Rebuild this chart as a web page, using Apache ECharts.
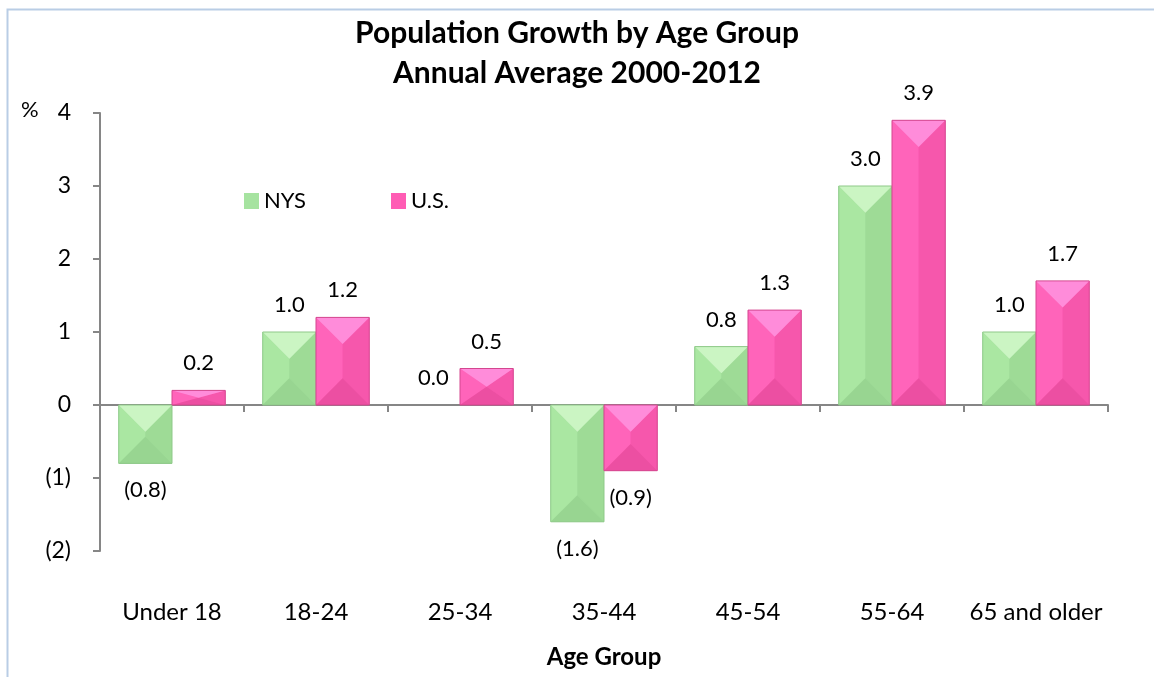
<!DOCTYPE html>
<html><head><meta charset="utf-8">
<script src="https://cdn.jsdelivr.net/npm/echarts@6/dist/echarts.min.js"></script>
<style>html,body{margin:0;padding:0;background:#fff}#c{width:1154px;height:677px}</style>
</head><body><div id="c"></div>
<script>
const categories = ['Under 18', '18-24', '25-34', '35-44', '45-54', '55-64', '65 and older'];
const nysValues = [-0.8, 1.0, 0.0, -1.6, 0.8, 3.0, 1.0];
const usValues = [0.2, 1.2, 0.5, -0.9, 1.3, 3.9, 1.7];
const seriesNames = ['NYS', 'U.S.'];
const titleLines = ['Population Growth by Age Group', 'Annual Average 2000-2012'];

const FONT = 'Lato';
const CAT_GAP = 0.26;
const palettes = [
  {base: '#a6e3a0', top: '#cbf5c3', left: '#aae7a2', right: '#9edb96', bottom: '#98d591', edge: '#8fc989'},
  {base: '#ff5cb4', top: '#ff8cda', left: '#ff64ba', right: '#f657ac', bottom: '#ec4fa2', edge: '#d4478f'}
];

function fmt(v) {
  return v < 0 ? '(' + Math.abs(v).toFixed(1) + ')' : v.toFixed(1);
}
function barData(arr) {
  return arr.map(v => v < 0 ? {value: v, label: {position: 'bottom'}} : {value: v});
}
function bevel(si) {
  const c = palettes[si];
  return function (params, api) {
    const ci = api.value(0), v = api.value(1);
    if (v === 0) return null;
    const p0 = api.coord([ci, 0]), p1 = api.coord([ci, v]);
    const band = api.size([1, 0])[0];
    const bw = band * (1 - CAT_GAP) / 2;
    const x0 = p0[0] - bw + si * bw, x1 = x0 + bw;
    const top = Math.min(p0[1], p1[1]), bot = Math.max(p0[1], p1[1]);
    const h = bot - top;
    const d = Math.min(bw / 2, h / 2);
    const cx = (x0 + x1) / 2;
    return {
      type: 'group', silent: true, children: [
        {type: 'polygon', shape: {points: [[x0, top], [cx, top + d], [cx, bot - d], [x0, bot]]}, style: {fill: c.left}},
        {type: 'polygon', shape: {points: [[x1, top], [cx, top + d], [cx, bot - d], [x1, bot]]}, style: {fill: c.right}},
        {type: 'polygon', shape: {points: [[x0, bot], [x1, bot], [cx, bot - d]]}, style: {fill: c.bottom}},
        {type: 'polygon', shape: {points: [[x0, top], [x1, top], [cx, top + d]]}, style: {fill: c.top}},
        {type: 'rect', shape: {x: x0, y: top, width: bw, height: h}, style: {fill: 'none', stroke: c.edge, lineWidth: 1}}
      ]
    };
  };
}

const chart = echarts.init(document.getElementById('c'));
chart.setOption({
  backgroundColor: '#fff',
  animation: false,
  title: {
    text: titleLines.join('\n'), left: 'center', top: 8,
    textStyle: {fontFamily: FONT, fontSize: 30, fontWeight: 'bold', color: '#000', lineHeight: 40}
  },
  legend: {
    data: seriesNames, left: 239, top: 185, itemGap: 85, itemWidth: 15, itemHeight: 16,
    icon: 'rect', textStyle: {fontFamily: FONT, fontSize: 22, color: '#000'}
  },
  graphic: [
    {type: 'rect', left: 5, top: 7, shape: {width: 1300, height: 800}, style: {fill: 'none', stroke: '#b9cde5', lineWidth: 2}, silent: true},
    {type: 'text', left: 21, top: 99, style: {text: '%', fontFamily: FONT, fontSize: 22, fill: '#000'}}
  ],
  grid: {left: 100, right: 46, top: 113, bottom: 126},
  xAxis: [
    {
      type: 'category', data: categories, position: 'bottom',
      axisLine: {onZero: true, lineStyle: {color: '#868686', width: 2}},
      axisTick: {show: true, length: 7, lineStyle: {color: '#868686', width: 2}},
      axisLabel: {show: false}
    },
    {
      type: 'category', data: categories, position: 'bottom',
      axisLine: {show: false, onZero: false}, axisTick: {show: false},
      axisLabel: {interval: 0, margin: 49, fontFamily: FONT, fontSize: 24, color: '#000'},
      name: 'Age Group', nameLocation: 'middle', nameGap: 94,
      nameTextStyle: {fontFamily: FONT, fontSize: 24, fontWeight: 'bold', color: '#000', verticalAlign: 'top'}
    }
  ],
  yAxis: {
    type: 'value', min: -2, max: 4, interval: 1,
    splitLine: {show: false},
    axisLine: {show: true, lineStyle: {color: '#868686', width: 2}},
    axisTick: {show: true, length: 7, lineStyle: {color: '#868686', width: 2}},
    axisLabel: {margin: 29, fontFamily: FONT, fontSize: 23, color: '#000', formatter: v => v < 0 ? '(' + (-v) + ')' : String(v)}
  },
  series: [
    {
      name: seriesNames[0], type: 'bar', xAxisIndex: 0, data: barData(nysValues),
      barGap: '0%', barCategoryGap: (CAT_GAP * 100) + '%',
      itemStyle: {color: palettes[0].base},
      label: {show: true, position: 'top', distance: 16, fontFamily: FONT, fontSize: 22, color: '#000', formatter: p => fmt(p.value)}
    },
    {
      name: seriesNames[1], type: 'bar', xAxisIndex: 0, data: barData(usValues),
      barGap: '0%', barCategoryGap: (CAT_GAP * 100) + '%',
      itemStyle: {color: palettes[1].base},
      label: {show: true, position: 'top', distance: 16, fontFamily: FONT, fontSize: 22, color: '#000', formatter: p => fmt(p.value)}
    },
    {type: 'custom', name: 'nysBevel', xAxisIndex: 0, z: 3, silent: true, renderItem: bevel(0), data: nysValues.map((v, i) => [i, v])},
    {type: 'custom', name: 'usBevel', xAxisIndex: 0, z: 3, silent: true, renderItem: bevel(1), data: usValues.map((v, i) => [i, v])}
  ]
});
</script></body></html>
